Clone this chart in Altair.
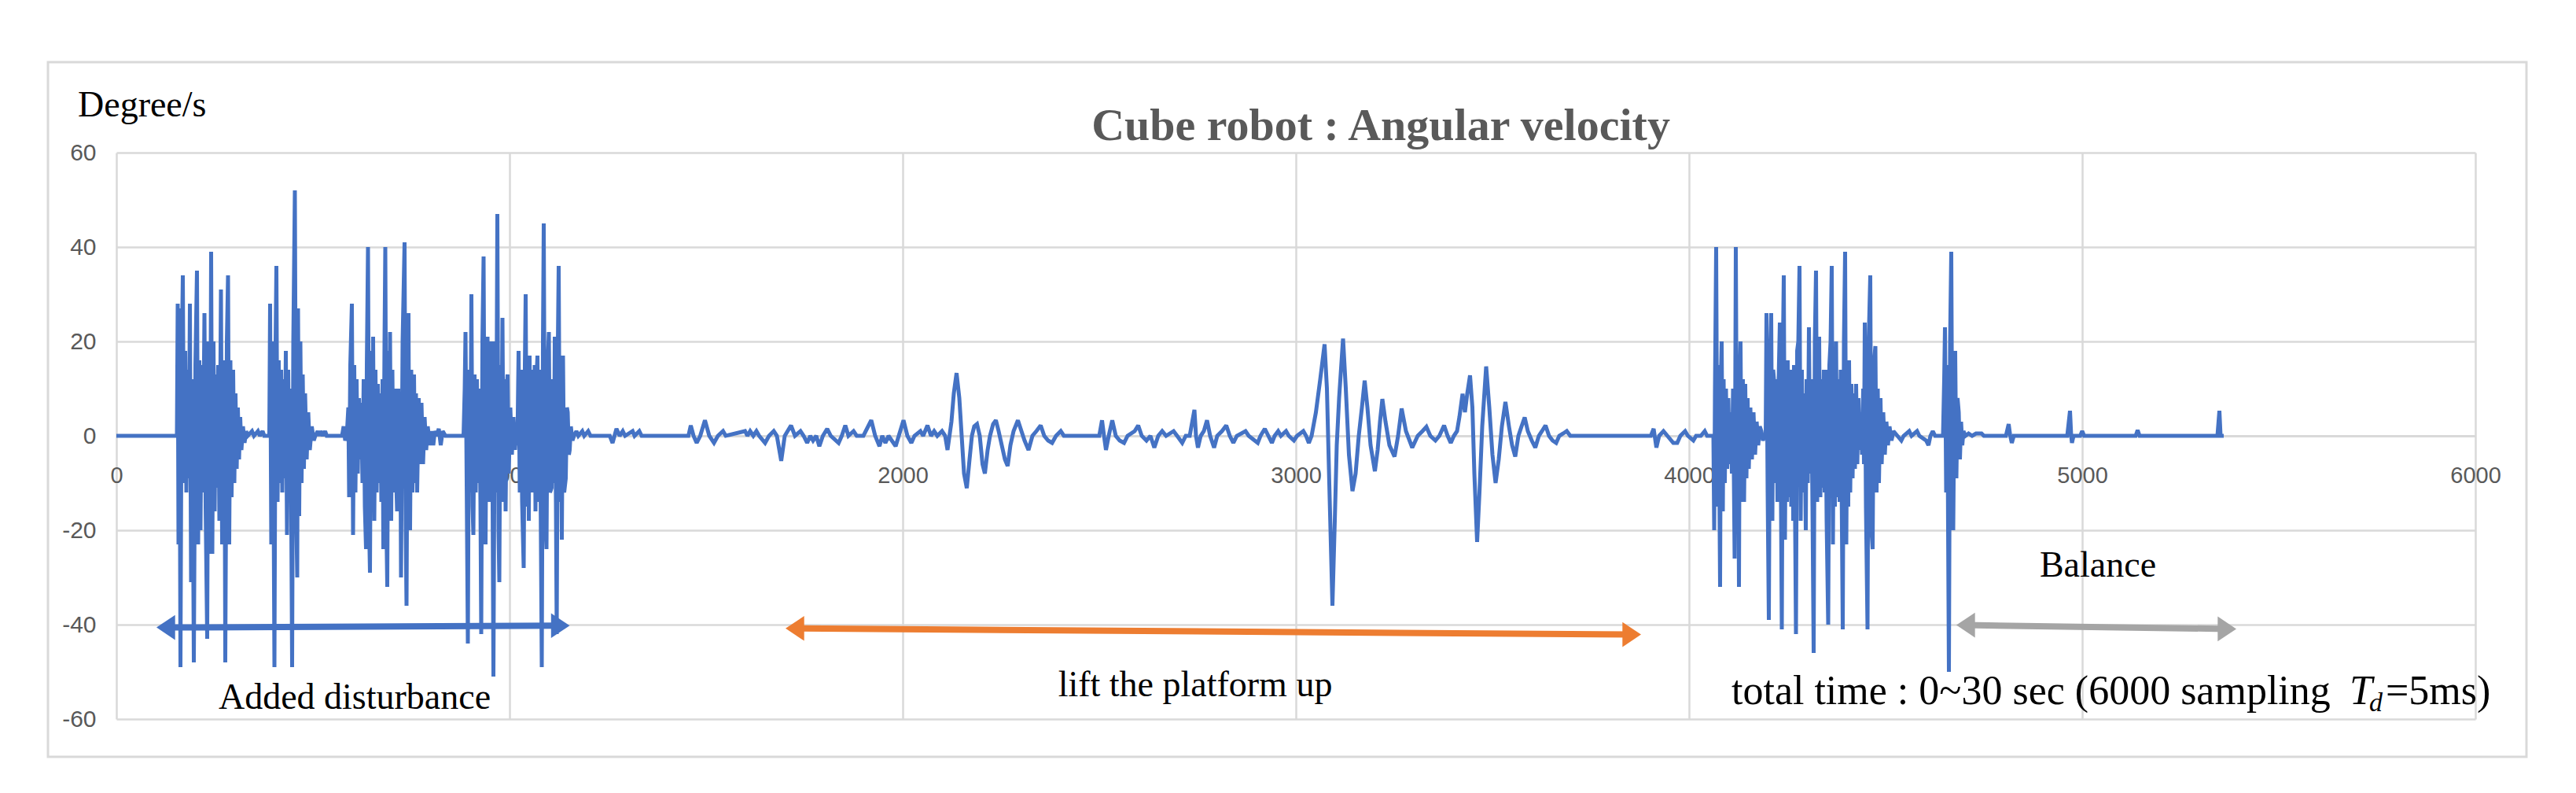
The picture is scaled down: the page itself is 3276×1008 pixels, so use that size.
import altair as alt
import pandas as pd

# ---------------- data ----------------
# angular velocity samples (sample index, degree/s)
seg_start = [(0, 0), (152, 0)]
burst_a = [(154, 0), (156, 28), (158, -23), (160, 27), (163, -49), (166, 15), (169, 34), (172, -10),
           (175, 18), (178, -12), (181, 14), (184, -9), (187, 28), (190, -31), (193, 12), (197, -48),
           (201, 15), (205, 35), (208, -23), (211, 16), (214, -20), (217, 15), (220, -12), (224, 26),
           (227, -15), (231, -43), (234, 20), (238, -25), (241, 39), (244, -25), (247, 20), (250, -16),
           (253, 13), (256, -11), (259, 15), (262, -18), (266, 31), (269, -23), (272, 16), (275, 12),
           (277, -48), (281, 20), (284, 34), (287, -23), (290, 16), (293, -13), (297, 14), (300, -10),
           (303, 9), (306, -7), (309, 6), (312, -5), (315, 4), (318, -3), (322, 2), (326, -1.5),
           (330, 1), (334, 0), (345, 1), (350, 0), (360, 1), (365, 0), (372, 1), (376, 0)]
burst_b = [(389, 0), (391, 28), (394, -23), (397, 20), (400, -15), (402, -49), (405, 20), (407, 36),
           (410, -14), (413, 16), (416, -10), (419, 14), (422, -12), (425, 12), (428, -9), (431, 18),
           (434, -21), (437, 14), (440, -12), (443, 10), (447, -49), (450, 20), (454, 52), (457, -14),
           (460, -30), (462, 27), (465, -17), (468, 20), (471, -10), (474, 13), (477, -7), (480, 9),
           (484, -5), (488, 5), (492, -3), (497, 2), (502, -1), (506, 0), (512, 1), (516, 0),
           (520, 1), (525, 0), (531, 1), (535, 0)]
burst_c = [(574, 0), (578, 2), (582, -1), (586, 0), (590, 6), (592, -13), (595, 15), (599, 28),
           (602, -21), (605, 15), (608, -12), (611, 12), (614, -8), (617, 8), (620, -5), (623, 7),
           (626, -10), (629, 12), (632, -15), (635, -24), (637, 15), (640, 40), (643, -20), (645, -29),
           (648, 18), (651, -14), (653, 21), (656, -18), (659, 14), (662, -12), (665, 11), (668, -10),
           (671, 9), (674, -14), (677, 12), (679, -24), (682, 20), (684, 40), (687, -20), (689, -32),
           (692, 18), (694, -14), (696, 22), (699, -18), (702, 14), (705, -12), (709, 10), (712, -10),
           (714, -16), (717, 10), (720, -12), (722, 8), (724, -30), (728, 20), (733, 41), (736, -20),
           (738, -36), (741, 18), (743, 26), (745, -15), (747, -20), (750, 14), (753, -12), (757, 13),
           (760, -10), (762, 9), (765, -12), (769, 8), (773, -6), (776, 7), (780, -6), (784, 4),
           (788, -3), (792, 2), (797, -2), (801, 1), (806, -2), (810, 1), (815, 0), (820, 1.5),
           (825, -2), (830, 1), (837, 0)]
burst_d = [(883, 0), (886, 10), (888, 22), (891, -10), (894, -44), (897, 14), (900, -12), (903, 30),
           (906, -15), (908, -21), (911, 13), (914, -12), (917, 12), (920, -10), (923, 10), (926, -14),
           (928, -42), (931, 20), (934, 38), (937, -16), (939, -23), (942, 15), (944, 21), (947, -14),
           (950, 13), (952, -10), (954, 20), (957, -15), (959, -51), (963, 20), (966, -12), (969, 47),
           (972, -20), (974, -31), (977, 15), (979, -12), (982, 25), (985, -14), (988, 12), (990, -16),
           (993, 10), (995, 13), (998, -8), (1002, 6), (1006, -4), (1010, 4), (1014, -3), (1017, 2),
           (1020, -2), (1023, 18), (1026, -12), (1029, 14), (1032, -14), (1036, -28), (1039, 15),
           (1041, 30), (1044, -15), (1047, 15), (1049, -18), (1051, 17), (1054, -12), (1058, 14),
           (1061, -12), (1064, 15), (1066, -16), (1069, 13), (1071, 17), (1074, -14), (1077, 14),
           (1079, -12), (1082, -49), (1085, 20), (1087, 45), (1090, -15), (1094, -24), (1097, 15),
           (1100, 22), (1103, -12), (1107, -11), (1110, 12), (1113, -10), (1115, 21), (1118, -14),
           (1120, -42), (1123, 20), (1125, 36), (1128, -14), (1130, 15), (1133, -22), (1136, 17),
           (1139, -12), (1143, -9), (1146, 6), (1148, 5), (1151, -4), (1153, -3), (1156, 2),
           (1160, -1), (1164, 0)]
calm_1 = [(1170, 1), (1175, 0), (1185, 1), (1190, 0), (1200, 1), (1206, 0), (1255, 0), (1262, -1.5),
          (1267, 0), (1272, 1.5), (1280, 0), (1288, 1), (1294, 0), (1313, 1), (1318, 0), (1330, 1),
          (1336, 0), (1455, 0), (1461, 2.2), (1468, 0), (1476, -1.5), (1485, 0), (1497, 3.3),
          (1508, 0), (1520, -1.5), (1530, 0), (1543, 1), (1550, 0), (1599, 1), (1605, 0), (1612, 1),
          (1620, 0), (1628, 1), (1635, 0), (1650, -1.5), (1660, 0), (1672, 1), (1680, 0),
          (1691, -5.3), (1700, 0), (1716, 2.2), (1726, 0), (1740, 1), (1748, 0), (1757, -1.5),
          (1765, 0), (1772, -1), (1780, 0), (1788, -2.2), (1797, 0), (1808, 1.5), (1817, 0),
          (1837, -1.5), (1845, 0), (1854, 2.2), (1862, 0), (1875, 1), (1883, 0), (1900, 0),
          (1920, 3.3), (1930, 0), (1941, -2.2), (1948, 0), (1956, -1.5), (1964, 0), (1982, -2.2),
          (1990, 0), (2002, 3.3), (2012, 0), (2022, -1.5), (2030, 0), (2045, 1), (2052, 0),
          (2063, 2.2), (2072, 0), (2080, 1), (2088, 0), (2100, 1), (2108, 0)]
wave_1 = [(2114, -3), (2119, 0), (2124, 3), (2130, 9), (2137, 13.3), (2144, 8), (2150, 0), (2156, -8),
          (2163, -11.1), (2170, -5), (2176, 0), (2182, 2), (2189, 2.5), (2196, 0), (2203, -6),
          (2209, -8), (2216, -3), (2222, 0), (2230, 2.5), (2237, 3.3), (2244, 1), (2252, -2),
          (2260, -5), (2267, -6.4), (2274, -2), (2282, 1), (2293, 3.3), (2302, 1), (2310, -1),
          (2320, -3), (2330, 0), (2340, 1), (2351, 2.2), (2360, 0), (2370, -1), (2380, -1.5),
          (2390, 0), (2402, 1), (2410, 0)]
calm_2 = [(2500, 0), (2507, 3.3), (2512, 0), (2517, -3), (2524, 0), (2533, 3.3), (2542, 0), (2552, -1),
          (2563, -1.5), (2572, 0), (2590, 1), (2599, 2.2), (2608, 0), (2620, -1), (2630, 0),
          (2640, -2.5), (2650, 0), (2660, 1), (2670, 0), (2689, 1), (2698, 0), (2711, -1.5),
          (2720, 0), (2730, 0), (2742, 5.5), (2746, 0), (2751, -2.5), (2758, 0), (2766, 1),
          (2774, 3.3), (2782, 0), (2792, -2.5), (2800, 0), (2812, 1), (2823, 2.2), (2832, 0),
          (2841, -1.5), (2850, 0), (2872, 1), (2880, 0), (2903, -1.5), (2910, 0), (2921, 1.5),
          (2930, 0), (2939, -1.5), (2946, 0), (2955, 1), (2962, 0), (2975, 1), (2982, 0),
          (2995, -1), (3003, 0), (3019, 1), (3026, 0), (3033, -1.5), (3040, 0)]
wave_2 = [(3051, 5), (3062, 12), (3073, 19.4), (3079, 10), (3085, -10), (3093, -36), (3099, -18),
          (3104, -2), (3110, 8), (3120, 20.6), (3127, 10), (3135, -4), (3144, -11.7), (3152, -8),
          (3160, 0), (3168, 6), (3175, 11.7), (3182, 6), (3190, -2), (3201, -7.5), (3208, -3),
          (3214, 3), (3220, 7.8), (3228, 3), (3238, -2), (3251, -4.4), (3260, 0), (3269, 5.8),
          (3280, 1), (3296, -2.5), (3310, 0), (3322, 1), (3332, 1.9), (3342, 0), (3355, -1),
          (3365, 0), (3377, 2.2), (3386, 0), (3394, -1.5), (3402, 0), (3410, 1), (3416, 4),
          (3424, 8.9), (3430, 5), (3436, 9), (3443, 12.8), (3449, 6), (3454, -8), (3461, -22.5),
          (3467, -12), (3474, 2), (3484, 14.7), (3492, 6), (3500, -4), (3508, -10), (3516, -5),
          (3524, 2), (3533, 7.2), (3542, 2), (3550, -2), (3558, -4.4), (3566, 0), (3574, 2),
          (3582, 3.9), (3590, 1), (3600, -1), (3609, -2.5), (3618, 0), (3626, 1), (3635, 2.2),
          (3644, 0), (3653, -1), (3662, -1.5), (3670, 0), (3680, 0.5), (3689, 1), (3698, 0)]
calm_3 = [(3903, 0), (3910, 1.5), (3917, -2.5), (3924, 0), (3935, 1), (3945, 0), (3960, -1.5),
          (3970, -1.5), (3978, 0), (3990, 1), (3997, 0), (4011, -1), (4018, 0), (4030, 0),
          (4040, 1), (4046, 0), (4062, 0)]
burst_e1 = [(4064, -20), (4066, 10), (4069, 40), (4072, -15), (4075, 15), (4079, -32), (4081, 12),
            (4083, 20), (4086, -16), (4088, 12), (4091, -10), (4094, 10), (4097, -7), (4100, 8),
            (4103, -6), (4106, 5), (4109, -8), (4112, 10), (4116, -26), (4119, 40), (4122, -15),
            (4124, 14), (4127, -32), (4129, 12), (4131, 20), (4134, -14), (4137, 12), (4140, -14),
            (4143, 11), (4146, -9), (4149, 8), (4152, -7), (4156, 6), (4160, -5), (4164, 5),
            (4168, -4), (4172, 3), (4176, -2), (4180, 2), (4184, 1), (4188, -1), (4192, 0)]
burst_e2 = [(4195, 0), (4197, 26), (4200, -12), (4203, -39), (4206, 15), (4209, 26), (4212, -18),
            (4214, 14), (4217, 11), (4219, -10), (4222, 12), (4225, -14), (4228, 12), (4231, 24),
            (4234, -15), (4236, -41), (4239, 20), (4241, 34), (4244, -22), (4247, 16), (4249, -14),
            (4251, 16), (4254, -13), (4257, 14), (4260, -15), (4263, 13), (4265, -18), (4267, 15),
            (4270, -20), (4272, -42), (4275, 18), (4278, 20), (4281, 36), (4284, -18), (4287, 14),
            (4290, -12), (4293, 9), (4297, -20), (4299, 12), (4302, -10), (4305, 23), (4308, -8),
            (4311, 12), (4314, -15), (4317, -46), (4320, 20), (4323, 35), (4326, -14), (4329, 15),
            (4331, 21), (4334, -13), (4337, 12), (4340, -11), (4343, 14), (4345, -12), (4347, 14),
            (4350, -18), (4354, -40), (4357, 15), (4360, 20), (4363, 36), (4366, -23), (4369, 18),
            (4371, -15), (4374, 20), (4377, -13), (4380, 12), (4383, -14), (4386, 14), (4389, -20),
            (4391, -41), (4394, 20), (4397, 39), (4400, -23), (4403, 16), (4405, -15), (4407, 16),
            (4410, -12), (4413, 11), (4416, -9), (4419, 9), (4422, -7), (4425, 11), (4428, -6),
            (4431, 8), (4434, -3), (4437, 5), (4440, -4), (4443, 10), (4445, -6), (4447, 24),
            (4450, -15), (4454, -41), (4457, 20), (4461, 34), (4464, -20), (4467, -24), (4470, 15),
            (4474, 19), (4477, -12), (4480, 10), (4483, -10), (4487, 8), (4490, -6), (4494, 5),
            (4498, -4), (4502, 3), (4506, -2), (4510, 2), (4515, -1), (4520, 1), (4530, 0),
            (4540, -1), (4546, 0), (4560, 1), (4566, 0), (4580, 1), (4586, 0), (4603, -1),
            (4609, -2), (4614, 0), (4620, 1), (4626, 0), (4646, 0)]
burst_f = [(4649, 12), (4651, 23), (4654, -12), (4657, 15), (4659, -20), (4661, -50), (4664, 20),
           (4667, 39), (4670, -12), (4672, -20), (4675, 10), (4677, 18), (4680, -9), (4683, 8),
           (4686, 5), (4689, -5), (4692, 3), (4695, -2), (4698, 1), (4703, 0), (4711, 0.5),
           (4720, 0), (4730, 0.5), (4744, 0.5), (4750, 0)]
calm_4 = [(4806, 0), (4813, 2.5), (4817, 0), (4821, -1.5), (4826, 0), (4962, 0), (4969, 5.3),
          (4972, 0), (4974, -1.5), (4978, 0), (4995, 0), (5000, 1), (5005, 0), (5136, 0),
          (5141, 1.2), (5146, 0), (5344, 0), (5349, 5.3), (5352, 0), (5360, 0)]

segments = [seg_start, burst_a, burst_b, burst_c, burst_d, calm_1, wave_1, calm_2, wave_2,
            calm_3, burst_e1, burst_e2, burst_f, calm_4]

x_ticks = [0, 1000, 2000, 3000, 4000, 5000, 6000]
y_ticks = [-60, -40, -20, 0, 20, 40, 60]

# double arrows: tips (sample, degree/s) and colours
arrow_x1 = [102, 1702, 4680]
arrow_y1 = [-40.6, -40.8, -40.1]
arrow_x2 = [1153, 3878, 5392]
arrow_y2 = [-40.2, -42.1, -40.9]
arrow_color = ["#4472c4", "#ed7d31", "#a5a5a5"]

# text notes
note_text = ["Added disturbance", "lift the platform  up", "Balance"]
note_x = [606, 2744, 5040]
note_y = [-57.9, -55.1, -29.75]

total_text = ["total time : 0~30 sec (6000 sampling", "=5ms)"]
total_x = [4108, 5772]
total_y = [-56.75, -56.75]

title_text = ["Cube robot : Angular velocity"]
title_x = [3216]
title_y = [62.75]

unit_text = ["Degree/s"]
unit_x = [-98]
unit_y = [67.75]

# ---------------- build tables ----------------
rows = []
for seg in segments:
    rows.extend(seg)
df = pd.DataFrame(rows, columns=["sample", "value"])

W, H = 3000, 720
XS = alt.Scale(domain=[0, 6000], nice=False, zero=False)
YS = alt.Scale(domain=[-60, 60], nice=False, zero=False)
GRID = "#d9d9d9"
LABEL_FONT = "Liberation Sans Narrow, Liberation Sans, sans-serif"
SERIF = "Liberation Serif"

x_axis = alt.Axis(values=x_ticks, grid=True, gridColor=GRID, gridWidth=2.5, domain=True,
                  domainColor=GRID, domainWidth=3, ticks=False, labelFont=LABEL_FONT,
                  labelFontSize=29, labelColor="#595959", labelPadding=36, offset=-360,
                  labelExpr="'' + datum.value",
                  title=None, labelFlush=False, labelOverlap=False)
y_axis = alt.Axis(values=y_ticks, grid=True, gridColor=GRID, gridWidth=2.5, domain=False,
                  ticks=False, labelFont=LABEL_FONT, labelFontSize=30, labelColor="#595959",
                  labelPadding=26, labelExpr="'' + datum.value", title=None,
                  labelFlush=False, labelOverlap=False)


def X(field):
    return alt.X(field, scale=XS, axis=x_axis)


def Y(field):
    return alt.Y(field, scale=YS, axis=y_axis)


border = alt.Chart(pd.DataFrame({"k": [0]})).mark_rect(
    fill="transparent", stroke=GRID, strokeWidth=3
).encode(x=alt.value(-87), x2=alt.value(3065), y=alt.value(-115), y2=alt.value(768))

line = alt.Chart(df).mark_line(color="#4472c4", strokeWidth=5, strokeJoin="miter",
                               strokeMiterLimit=2).encode(x=X("sample:Q"), y=Y("value:Q"))

arrows = pd.DataFrame({"x1": arrow_x1, "y1": arrow_y1, "x2": arrow_x2, "y2": arrow_y2,
                       "c": arrow_color})
# shafts stop where the heads begin (about 12 px inside each tip)
arrows["sx1"] = arrows["x1"] + 24
arrows["sx2"] = arrows["x2"] - 24

shaft = alt.Chart(arrows).mark_rule(strokeWidth=8).encode(
    x=X("sx1:Q"), x2="sx2:Q", y=Y("y1:Q"), y2="y2:Q",
    color=alt.Color("c:N", scale=None),
)
head_l = alt.Chart(arrows).mark_point(shape="M0,0 L1.5,-1 L1.5,1 Z", filled=True, size=1000,
                                      opacity=1).encode(
    x=X("x1:Q"), y=Y("y1:Q"), color=alt.Color("c:N", scale=None),
)
head_r = alt.Chart(arrows).mark_point(shape="M0,0 L-1.5,-1 L-1.5,1 Z", filled=True, size=1000,
                                      opacity=1).encode(
    x=X("x2:Q"), y=Y("y2:Q"), color=alt.Color("c:N", scale=None),
)

notes = alt.Chart(pd.DataFrame({"t": note_text, "x": note_x, "y": note_y})).mark_text(
    font=SERIF, fontSize=46, align="center", baseline="alphabetic", color="#000000"
).encode(x=X("x:Q"), y=Y("y:Q"), text="t:N")

total = alt.Chart(pd.DataFrame({"t": total_text, "x": total_x, "y": total_y})).mark_text(
    font=SERIF, fontSize=52, align="left", baseline="alphabetic", color="#000000"
).encode(x=X("x:Q"), y=Y("y:Q"), text="t:N")

t_sym = alt.Chart(pd.DataFrame({"t": ["T"], "x": [5680], "y": [-56.75]})).mark_text(
    font=SERIF, fontSize=52, fontStyle="italic", align="left", baseline="alphabetic",
    color="#000000"
).encode(x=X("x:Q"), y=Y("y:Q"), text="t:N")

d_sym = alt.Chart(pd.DataFrame({"t": ["d"], "x": [5730], "y": [-58.4]})).mark_text(
    font=SERIF, fontSize=34, fontStyle="italic", align="left", baseline="alphabetic",
    color="#000000"
).encode(x=X("x:Q"), y=Y("y:Q"), text="t:N")

title = alt.Chart(pd.DataFrame({"t": title_text, "x": title_x, "y": title_y})).mark_text(
    font=SERIF, fontSize=58, fontWeight="bold", align="center", baseline="alphabetic",
    color="#595959"
).encode(x=X("x:Q"), y=Y("y:Q"), text="t:N")

unit = alt.Chart(pd.DataFrame({"t": unit_text, "x": unit_x, "y": unit_y})).mark_text(
    font=SERIF, fontSize=46, align="left", baseline="alphabetic", color="#000000"
).encode(x=X("x:Q"), y=Y("y:Q"), text="t:N")

chart = alt.layer(border, line, shaft, head_l, head_r, notes, total, t_sym, d_sym, title,
                  unit).properties(
    width=W, height=H,
    autosize=alt.AutoSizeParams(type="none"),
    padding={"left": 140, "top": 186, "right": 120, "bottom": 80},
    background="white",
).configure_view(strokeWidth=0)

chart.save("out.html", embed_options={"renderer": "svg", "actions": False})
